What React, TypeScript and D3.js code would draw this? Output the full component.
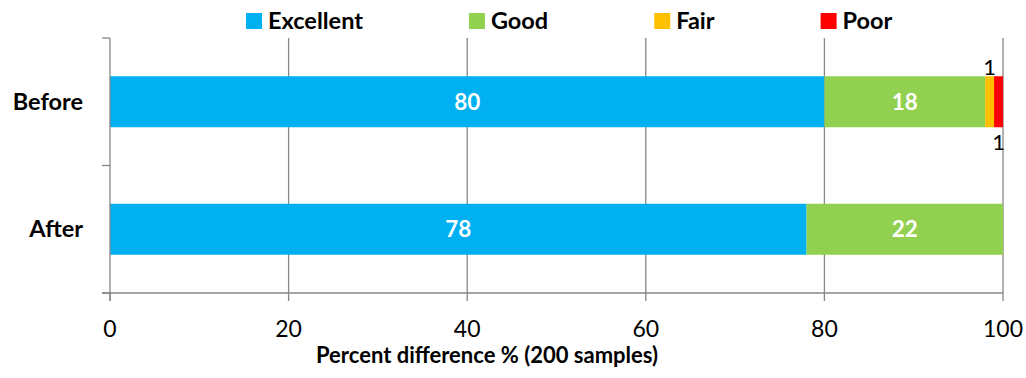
import React from "react";
import * as d3 from "d3";

// Rating share per condition (percent of 200 samples)
const categories = ["Before", "After"];
const seriesNames = ["Excellent", "Good", "Fair", "Poor"];
const excellent = [80, 78];
const good = [18, 22];
const fair = [1, 0];
const poor = [1, 0];
const xTicks = [0, 20, 40, 60, 80, 100];
const colors = ["#00B0F0", "#92D050", "#FFC000", "#FF0000"];

const W = 1026;
const H = 378;
const FONT = "Lato, 'Noto Sans', sans-serif";
const AXIS = "#878787";
const LABEL_SIZE = 23.5;

function measure(text: string, font: string): number {
  const c = document.createElement("canvas").getContext("2d");
  if (!c) return text.length * 11;
  c.font = font;
  return c.measureText(text).width;
}

export default function App() {
  const rows = categories.map((c, i) => ({
    category: c,
    Excellent: excellent[i],
    Good: good[i],
    Fair: fair[i],
    Poor: poor[i],
  }));
  const stacked = d3.stack<any>().keys(seriesNames)(rows);

  const x = d3.scaleLinear().domain([0, 100]).range([110, 1003]);
  const y = d3
    .scaleBand<string>()
    .domain(categories)
    .range([38, 293])
    .paddingInner(0.6)
    .paddingOuter(0.3);
  const step = y.step();
  const top = 38;
  const bottom = 293;

  // legend entries laid out left to right from measured label widths
  const legendFont = `bold ${LABEL_SIZE}px Lato`;
  let lx = 246;
  const legend = seriesNames.map((name, i) => {
    const entry = { name, x: lx, color: colors[i] };
    lx += 16 + 6 + measure(name, legendFont) + 106;
    return entry;
  });

  return (
    <svg
      width={W}
      height={H}
      style={{ position: "absolute", left: 0, top: 0, background: "#fff" }}
      fontFamily={FONT}
    >
      {/* vertical gridlines */}
      {xTicks.slice(1).map((t) => (
        <line key={"g" + t} x1={x(t)} x2={x(t)} y1={top} y2={bottom} stroke={AXIS} strokeWidth={1.3} />
      ))}

      {/* stacked bars */}
      {stacked.map((layer, si) => (
        <g key={layer.key} fill={colors[si]}>
          {layer.map((d, ci) =>
            d[1] - d[0] > 0 ? (
              <rect
                key={ci}
                x={x(d[0])}
                y={y(categories[ci])}
                width={x(d[1]) - x(d[0])}
                height={y.bandwidth()}
              />
            ) : null
          )}
        </g>
      ))}

      {/* value labels */}
      {stacked.map((layer, si) =>
        layer.map((d, ci) => {
          const v = d[1] - d[0];
          if (v <= 0) return null;
          const cx = (x(d[0]) + x(d[1])) / 2;
          const y0 = y(categories[ci]) as number;
          if (v >= 5) {
            return (
              <text
                key={layer.key + ci}
                x={cx}
                y={y0 + y.bandwidth() / 2 + 8}
                textAnchor="middle"
                fill="#fff"
                fontWeight="bold"
                fontSize={22.5}
              >
                {v}
              </text>
            );
          }
          const above = si % 2 === 0;
          return (
            <text
              key={layer.key + ci}
              x={cx}
              y={above ? y0 - 1 : y0 + y.bandwidth() + 23}
              textAnchor="middle"
              fill="#000"
              fontSize={22}
            >
              {v}
            </text>
          );
        })
      )}

      {/* category axis */}
      <line x1={x(0)} x2={x(0)} y1={top} y2={bottom + 8} stroke={AXIS} strokeWidth={1.3} />
      {[0, 1, 2].map((k) => (
        <line key={"ct" + k} x1={x(0) - 8} x2={x(0)} y1={top + k * step} y2={top + k * step} stroke={AXIS} strokeWidth={1.3} />
      ))}
      {categories.map((c) => (
        <text
          key={c}
          x={83}
          y={(y(c) as number) + y.bandwidth() / 2 + 8}
          textAnchor="end"
          fontWeight="bold"
          fontSize={LABEL_SIZE}
          fill="#000"
        >
          {c}
        </text>
      ))}

      {/* value axis */}
      <line x1={x(0) - 8} x2={x(100)} y1={bottom} y2={bottom} stroke={AXIS} strokeWidth={1.3} />
      {xTicks.map((t) => (
        <g key={"t" + t}>
          <line x1={x(t)} x2={x(t)} y1={bottom} y2={bottom + 8} stroke={AXIS} strokeWidth={1.3} />
          <text x={x(t)} y={337} textAnchor="middle" fontSize={23} fill="#000">
            {t}
          </text>
        </g>
      ))}
      <text x={487} y={363} textAnchor="middle" fontWeight="bold" fontSize={22} fill="#000">
        Percent difference % (200 samples)
      </text>

      {/* legend */}
      {legend.map((e) => (
        <g key={e.name}>
          <rect x={e.x} y={13} width={16} height={16} fill={e.color} />
          <text x={e.x + 22} y={29} fontWeight="bold" fontSize={LABEL_SIZE} fill="#000">
            {e.name}
          </text>
        </g>
      ))}
    </svg>
  );
}
